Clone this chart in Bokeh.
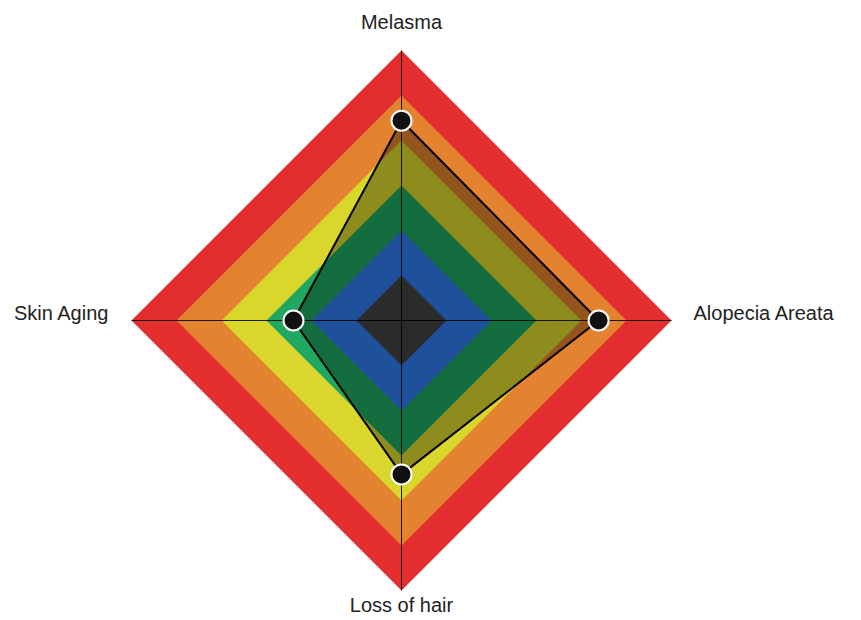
from bokeh.plotting import figure
from bokeh.models import Range1d
from bokeh.core.properties import value
from bokeh.embed import file_html
from bokeh.resources import INLINE
import numpy as np

# Data
categories = ["Melasma", "Alopecia Areata", "Loss of hair", "Skin Aging"]
values = [74, 73, 57, 40]
max_value = 100
band_levels = [100, 83.33, 66.67, 50, 33.33, 16.67]
band_colors = ["#e22e2e", "#e3822f", "#d9d72b", "#20a862", "#307bef", "#434343"]

R = 270.0  # pixel radius of the outer ring
angles = [np.pi / 2, 0.0, -np.pi / 2, np.pi]  # top, right, bottom, left

W, H = 845, 616
CX, CY = 401, 320
p = figure(width=W, height=H, output_backend="svg", toolbar_location=None,
           x_range=Range1d(-CX, W - CX), y_range=Range1d(CY - H, CY),
           min_border=0, outline_line_color=None)
p.axis.visible = False
p.grid.visible = False
p.background_fill_color = "white"
p.border_fill_color = "white"

def pts(vals):
    xs = [v / max_value * R * np.cos(a) for v, a in zip(vals, angles)]
    ys = [v / max_value * R * np.sin(a) for v, a in zip(vals, angles)]
    return xs, ys

for lvl, col in zip(band_levels, band_colors):
    xs, ys = pts([lvl] * 4)
    p.patch(xs, ys, fill_color=col, line_color=None)

# axis lines
for a in angles[:2]:
    p.line([-R * np.cos(a), R * np.cos(a)], [-R * np.sin(a), R * np.sin(a)],
           line_color="black", line_width=1, line_alpha=0.85)

# data polygon
xs, ys = pts(values)
p.patch(xs + [xs[0]], ys + [ys[0]], fill_color="black", fill_alpha=0.35,
        line_color="black", line_width=2)
p.scatter(xs, ys, size=20, fill_color="#111111", line_color="white", line_width=2)

# labels
lx = [0, R + 22, 0, -R - 22]
ly = [R + 29, 8, -R - 3, 8]
aligns = ["center", "left", "center", "right"]
baselines = ["middle", "middle", "top", "middle"]
for t, x, y, al, bl in zip(categories, lx, ly, aligns, baselines):
    p.text([x], [y], text=[t], text_align=al, text_baseline=bl,
           text_font=value("Liberation Sans"), text_font_size="20px",
           text_color="#222222")

open("out.html", "w").write(file_html(p, INLINE))
